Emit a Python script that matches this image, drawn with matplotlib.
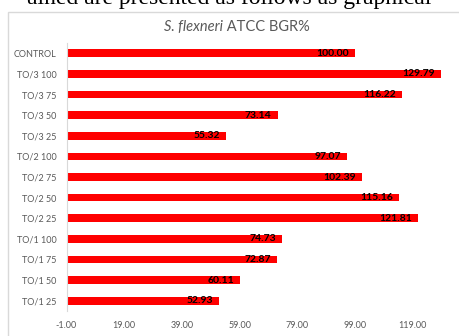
import matplotlib
matplotlib.use('Agg')
import matplotlib.pyplot as plt
from matplotlib.patches import Rectangle

categories = ['CONTROL', 'TO/3 100', 'TO/3 75', 'TO/3 50', 'TO/3 25',
              'TO/2 100', 'TO/2 75', 'TO/2 50', 'TO/2 25',
              'TO/1 100', 'TO/1 75', 'TO/1 50', 'TO/1 25']
values = [100.00, 129.79, 116.22, 73.14, 55.32,
          97.07, 102.39, 115.16, 121.81,
          74.73, 72.87, 60.11, 52.93]
xticks = [-1, 19, 39, 59, 79, 99, 119]

W, H = 459, 336
fig = plt.figure(figsize=(W / 100, H / 100), dpi=100)

# page text cut off above the chart (it is cropped in the source too)
fig.text(229.5 / W, 1 - 4 / H, 'ained are presented as follows as graphical',
         family='Liberation Serif', fontsize=17, ha='center', va='baseline',
         color='black')

# chart frame, runs off the right and bottom edges
fig.patches.append(Rectangle((8 / W, -0.1), 1.2, (336 - 12) / H + 0.1,
                             transform=fig.transFigure, fill=False,
                             edgecolor='#d9d9d9', lw=1))

left_px, top_px, bottom_px = 66.5, 43, 311
ax = fig.add_axes([left_px / W, (H - bottom_px) / H,
                   (W - left_px) / W, (bottom_px - top_px) / H])

y = list(range(len(categories)))
ax.barh(y, values, left=-1, height=0.37, color='#ff0000')
for yi, v in zip(y, values):
    ax.text(v - 1 - 2.0, yi, f'{v:.2f}', ha='right', va='center',
            family='Lato', fontweight='bold', fontsize=7.5, color='black')

ax.set_xlim(-1, (W - left_px) / 2.885 - 1)
ax.set_ylim(len(categories) - 0.5, -0.5)
ax.set_yticks(y)
ax.set_yticklabels(categories)
ax.set_xticks(xticks)
ax.set_xticklabels([f'{t:.2f}' for t in xticks])
ax.tick_params(length=0, labelsize=6.5, labelcolor='#595959')
ax.tick_params(axis='y', pad=7)
ax.tick_params(axis='x', pad=7)
for lab in ax.get_xticklabels() + ax.get_yticklabels():
    lab.set_family('Lato')
for s in ['top', 'right', 'bottom']:
    ax.spines[s].set_visible(False)
ax.spines['left'].set_color('#d9d9d9')

# title: italic species name followed by plain text
renderer = fig.canvas.get_renderer()
a = fig.text(0, 1 - 27 / H, 'S. flexneri', family='Lato', style='italic',
             fontsize=10.5, color='#595959', va='center')
b = fig.text(0, 1 - 27 / H, ' ATCC BGR%', family='Lato', fontsize=10.5,
             color='#595959', va='center')
wa = a.get_window_extent(renderer).width
wb = b.get_window_extent(renderer).width
x0 = 237 - (wa + wb) / 2
a.set_x(x0 / W)
b.set_x((x0 + wa) / W)

fig.savefig('out.png', dpi=100)
